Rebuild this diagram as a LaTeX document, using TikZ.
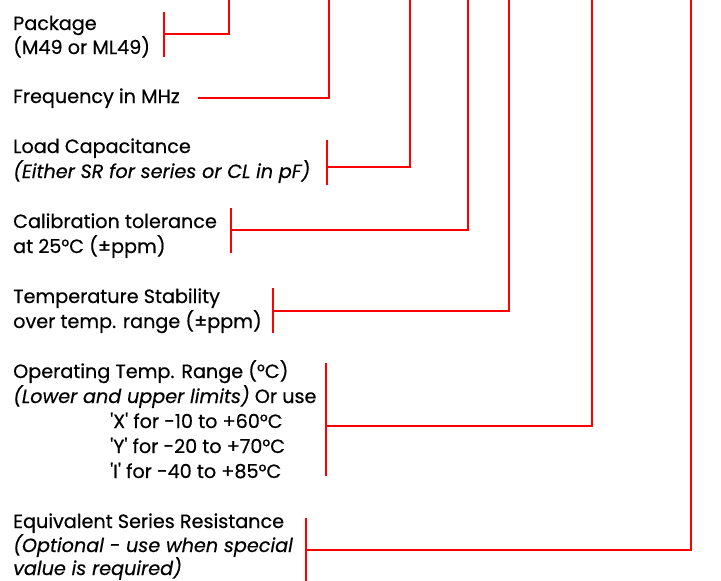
\documentclass[tikz,border=0pt]{standalone}
\usepackage{fontspec}
\setmainfont{Poppins}[FakeBold=0.5]
\begin{document}
\begin{tikzpicture}[x=1pt,y=-1pt,
  lbl/.style={anchor=base west, inner sep=0pt, font=\fontsize{19.2}{23}\selectfont},
  ilbl/.style={lbl, font=\fontsize{19.2}{23}\selectfont\itshape},
  bar/.style={draw=red, line width=2.6pt},
  conn/.style={draw=red, line width=2.6pt}]
\useasboundingbox (0,0) rectangle (721,581);
\begin{scope}
\clip (0,0) rectangle (721,581);
% texts
\node[lbl] (pkgA) at (13,30) {Package};
\node[lbl] (pkgB) at (13,54) {(M49 or ML49)};
\node[lbl] (freq) at (13,103) {Frequency in MHz};
\node[lbl] (loadA) at (13,153) {Load Capacitance};
\node[ilbl] (loadB) at (13,178) {(Either SR for series or CL in pF)};
\node[lbl] (calA) at (13,228) {Calibration tolerance};
\node[lbl] (calB) at (13,253) {at 25°C (±ppm)};
\node[lbl] (stabA) at (13,303) {Temperature Stability};
\node[lbl] (stabB) at (13,328) {over temp. range (±ppm)};
\node[lbl] (opA) at (13,378) {Operating Temp. Range (°C)};
\node[lbl] (opB) at (13,403) {\itshape (Lower and upper limits)\upshape{} Or use};
\node[lbl] (opX) at (110,428) {\textquotesingle X\textquotesingle{} for -10 to +60°C};
\node[lbl] (opY) at (110,453) {\textquotesingle Y\textquotesingle{} for -20 to +70°C};
\node[lbl] (opI) at (110,478) {\textquotesingle I\textquotesingle{} for -40 to +85°C};
\node[lbl] (esrA) at (13,528) {Equivalent Series Resistance};
\node[ilbl] (esrB) at (13,552) {(Optional - use when special};
\node[ilbl] (esrC) at (13,575) {value is required)};
% coordinates
\coordinate (pkgT) at (164,12); \coordinate (pkgD) at (164,57); \coordinate (pkgM) at (164,34); \coordinate (pkgE) at (229,-5);
\coordinate (freqS) at (198,98); \coordinate (freqE) at (329,-5);
\coordinate (loadT) at (327,140); \coordinate (loadD) at (327,185); \coordinate (loadM) at (327,167); \coordinate (loadE) at (410,-5);
\coordinate (calT) at (231,208); \coordinate (calD) at (231,253); \coordinate (calM) at (231,230); \coordinate (calE) at (468,-5);
\coordinate (stabT) at (273,288); \coordinate (stabD) at (273,333); \coordinate (stabM) at (273,311); \coordinate (stabE) at (509,-5);
\coordinate (opT) at (326,363); \coordinate (opD) at (326,476); \coordinate (opM) at (326,426); \coordinate (opE) at (592,-5);
\coordinate (esrT) at (306,518); \coordinate (esrD) at (306,590); \coordinate (esrM) at (306,550); \coordinate (esrE) at (691,-5);
% brackets and connectors
\draw[bar] (pkgT) -- (pkgD);
\draw[conn] (pkgM) -| (pkgE);
\draw[conn] (freqS) -| (freqE);
\draw[bar] (loadT) -- (loadD);
\draw[conn] (loadM) -| (loadE);
\draw[bar] (calT) -- (calD);
\draw[conn] (calM) -| (calE);
\draw[bar] (stabT) -- (stabD);
\draw[conn] (stabM) -| (stabE);
\draw[bar] (opT) -- (opD);
\draw[conn] (opM) -| (opE);
\draw[bar] (esrT) -- (esrD);
\draw[conn] (esrM) -| (esrE);
\end{scope}
\end{tikzpicture}
\end{document}
